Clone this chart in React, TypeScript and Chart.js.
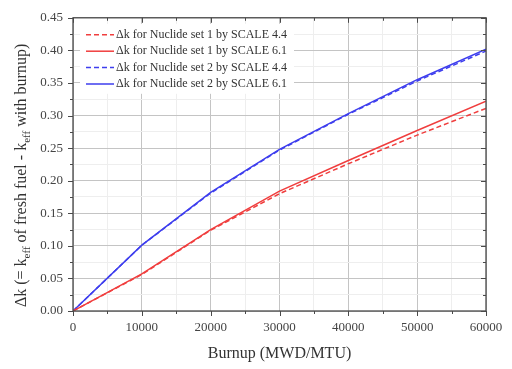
import React, { useEffect, useRef } from "react";
import { Chart, registerables } from "chart.js";

Chart.register(...registerables);

const burnup = [0, 10000, 20000, 30000, 40000, 50000, 60000];
const set1Scale44 = [0, 0.056, 0.124, 0.18, 0.226, 0.27, 0.311];
const set1Scale61 = [0, 0.057, 0.125, 0.184, 0.231, 0.277, 0.322];
const set2Scale44 = [0, 0.101, 0.181, 0.247, 0.302, 0.353, 0.399];
const set2Scale61 = [0, 0.101, 0.182, 0.248, 0.303, 0.355, 0.402];

const seriesLabels = [
  "Δk for Nuclide set 1 by SCALE 4.4",
  "Δk for Nuclide set 1 by SCALE 6.1",
  "Δk for Nuclide set 2 by SCALE 4.4",
  "Δk for Nuclide set 2 by SCALE 6.1",
];

const xTitle = "Burnup (MWD/MTU)";
const yTitleParts: [string, boolean][] = [
  ["Δk (= k", false],
  ["eff", true],
  [" of fresh fuel - k", false],
  ["eff", true],
  [" with burnup)", false],
];

const RED = "rgb(240,62,62)";
const BLUE = "rgb(62,62,238)";
const SERIF = '"Liberation Serif", "Times New Roman", serif';

const toPoints = (ys: number[]) => burnup.map((x, i) => ({ x, y: ys[i] }));

const decorPlugin = {
  id: "decor",
  beforeDraw(chart: any) {
    const { ctx, width, height } = chart;
    ctx.save();
    ctx.fillStyle = "#ffffff";
    ctx.fillRect(0, 0, width, height);
    ctx.restore();
  },
  beforeDatasetsDraw(chart: any) {
    const { ctx } = chart;
    const x0 = chart.scales.x.getPixelForValue(0);
    const y0 = chart.scales.y.getPixelForValue(0.45);
    const lx = x0 + 7;
    const ly = y0 + 6;
    ctx.save();
    ctx.fillStyle = "#ffffff";
    ctx.fillRect(lx, ly, 214, 70);
    ctx.font = `12px ${SERIF}`;
    ctx.textBaseline = "middle";
    ctx.textAlign = "left";
    chart.data.datasets.forEach((ds: any, i: number) => {
      const cy = ly + 11 + i * 16.4;
      ctx.strokeStyle = ds.borderColor;
      ctx.lineWidth = 1.5;
      ctx.setLineDash(ds.borderDash || []);
      ctx.beginPath();
      ctx.moveTo(lx + 6, cy);
      ctx.lineTo(lx + 34, cy);
      ctx.stroke();
      ctx.setLineDash([]);
      ctx.fillStyle = "#333333";
      ctx.fillText(ds.label, lx + 36, cy);
    });
    ctx.restore();
  },
  afterDraw(chart: any) {
    const { ctx, chartArea } = chart;
    const { left, right, top, bottom } = chartArea;
    const xs = chart.scales.x;
    const ys = chart.scales.y;
    ctx.save();
    ctx.strokeStyle = "#4a4a4a";
    ctx.lineWidth = 1.3;
    ctx.strokeRect(left, top, right - left, bottom - top);
    ctx.lineWidth = 1;
    ctx.beginPath();
    for (let v = 0; v <= 60000; v += 5000) {
      const px = Math.round(xs.getPixelForValue(v)) + 0.5;
      const len = v % 10000 === 0 ? 5 : 3;
      ctx.moveTo(px, bottom);
      ctx.lineTo(px, bottom + len);
      ctx.moveTo(px, top);
      ctx.lineTo(px, top + len);
    }
    for (let k = 0; k <= 18; k++) {
      const v = k * 0.025;
      const py = Math.round(ys.getPixelForValue(v)) + 0.5;
      const len = k % 2 === 0 ? 5 : 3;
      ctx.moveTo(left, py);
      ctx.lineTo(left - len, py);
      ctx.moveTo(right, py);
      ctx.lineTo(right - len, py);
    }
    ctx.stroke();

    // y-axis title with subscripts
    const mainFont = `16px ${SERIF}`;
    const subFont = `11px ${SERIF}`;
    let total = 0;
    yTitleParts.forEach(([t, sub]) => {
      ctx.font = sub ? subFont : mainFont;
      total += ctx.measureText(t).width;
    });
    const cx = 22;
    const cy = (top + bottom) / 2 + 11;
    ctx.translate(cx, cy);
    ctx.rotate(-Math.PI / 2);
    ctx.fillStyle = "#333333";
    ctx.textBaseline = "middle";
    ctx.textAlign = "left";
    let pos = -total / 2;
    yTitleParts.forEach(([t, sub]) => {
      ctx.font = sub ? subFont : mainFont;
      ctx.fillText(t, pos, sub ? 5 : 0);
      pos += ctx.measureText(t).width;
    });
    ctx.restore();
  },
};

export default function App() {
  const canvasRef = useRef<HTMLCanvasElement | null>(null);

  useEffect(() => {
    document.body.style.margin = "0";
    const canvas = canvasRef.current;
    if (!canvas) return;
    const chart = new Chart(canvas, {
      type: "line",
      data: {
        datasets: [
          {
            label: seriesLabels[0],
            data: toPoints(set1Scale44),
            borderColor: RED,
            borderDash: [5, 3],
            borderWidth: 1.5,
            pointRadius: 0,
            fill: false,
          },
          {
            label: seriesLabels[1],
            data: toPoints(set1Scale61),
            borderColor: RED,
            borderWidth: 1.5,
            pointRadius: 0,
            fill: false,
          },
          {
            label: seriesLabels[2],
            data: toPoints(set2Scale44),
            borderColor: BLUE,
            borderDash: [5, 3],
            borderWidth: 1.5,
            pointRadius: 0,
            fill: false,
          },
          {
            label: seriesLabels[3],
            data: toPoints(set2Scale61),
            borderColor: BLUE,
            borderWidth: 1.5,
            pointRadius: 0,
            fill: false,
          },
        ],
      },
      options: {
        animation: false,
        responsive: true,
        maintainAspectRatio: false,
        layout: { padding: { top: 11, right: 26, left: 0, bottom: 0 } },
        plugins: {
          legend: { display: false },
          tooltip: { enabled: false },
        },
        scales: {
          x: {
            type: "linear",
            min: 0,
            max: 60000,
            afterFit: (s: any) => {
              s.height = 58;
            },
            ticks: {
              stepSize: 5000,
              autoSkip: false,
              maxRotation: 0,
              padding: 9,
              color: "#444444",
              font: { family: SERIF, size: 13 },
              callback: (v: any) => (Number(v) % 10000 === 0 ? String(v) : ""),
            },
            grid: {
              drawTicks: false,
              color: (c: any) =>
                c.tick && c.tick.value % 10000 === 0 ? "#c4c4c4" : "#eeeeee",
              lineWidth: 1,
            },
            border: { display: false },
            title: {
              display: true,
              text: xTitle,
              color: "#333333",
              font: { family: SERIF, size: 16 },
              padding: { top: 0, bottom: 6 },
            },
          },
          y: {
            type: "linear",
            min: 0,
            max: 0.45,
            afterFit: (s: any) => {
              s.width = 73;
            },
            ticks: {
              stepSize: 0.025,
              autoSkip: false,
              padding: 10,
              color: "#444444",
              font: { family: SERIF, size: 13 },
              callback: (v: any) => {
                const k = Math.round(Number(v) * 1000);
                return k % 50 === 0 ? (k / 1000).toFixed(2) : "";
              },
            },
            grid: {
              drawTicks: false,
              color: (c: any) => {
                const k = c.tick ? Math.round(c.tick.value * 1000) : 0;
                return k % 50 === 0 ? "#c4c4c4" : "#eeeeee";
              },
              lineWidth: 1,
            },
            border: { display: false },
          },
        },
      },
      plugins: [decorPlugin],
    });
    return () => chart.destroy();
  }, []);

  return (
    <div style={{ width: 512, height: 369, position: "relative" }}>
      <canvas ref={canvasRef} />
    </div>
  );
}
